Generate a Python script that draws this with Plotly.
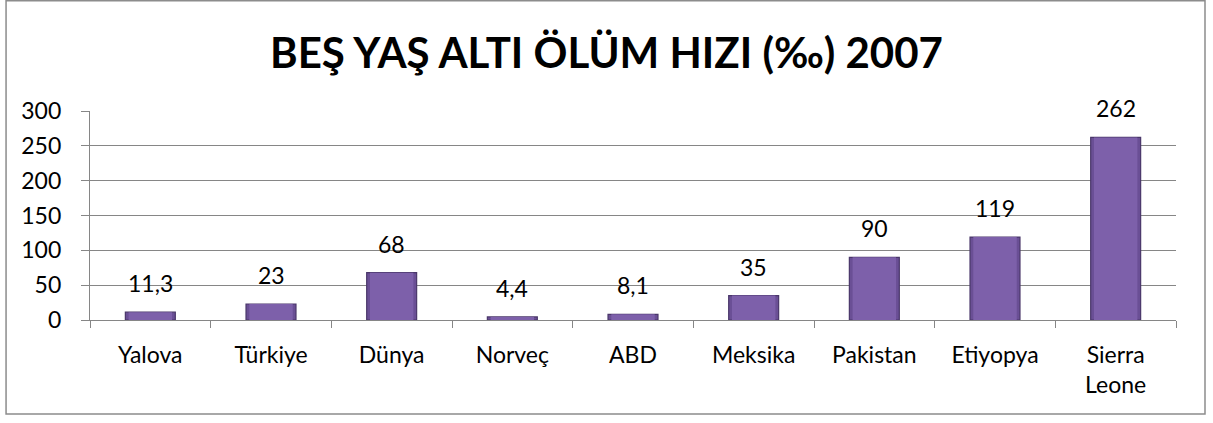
import plotly.graph_objects as go

# Under-five mortality rate (per mille), 2007
categories = ["Yalova", "Türkiye", "Dünya", "Norveç", "ABD", "Meksika",
              "Pakistan", "Etiyopya", "Sierra<br>Leone"]
values = [11.3, 23, 68, 4.4, 8.1, 35, 90, 119, 262]
value_labels = ["11,3", "23", "68", "4,4", "8,1", "35", "90", "119", "262"]
y_ticks = [0, 50, 100, 150, 200, 250, 300]

FONT = "Lato, 'Open Sans', sans-serif"

fig = go.Figure()

# outer bar body (darker bevel edges)
fig.add_trace(go.Bar(
    x=categories, y=values,
    marker=dict(color="#6a4f95", line=dict(color="#4a376a", width=1.2)),
    hoverinfo="x+y", showlegend=False,
))
# flat inner face of the bevelled bar
fig.add_trace(go.Bar(
    x=categories, y=values,
    marker=dict(color="#7d60aa", line=dict(width=0)),
    width=0.36, base=0, hoverinfo="skip", showlegend=False,
))

annotations = [
    dict(x=c, y=v, text=t, xref="x", yref="y", showarrow=False,
         yanchor="bottom", yshift=13, font=dict(family=FONT, size=23, color="#000"))
    for c, v, t in zip(categories, values, value_labels)
]
annotations.append(dict(
    text="<b>BEŞ YAŞ ALTI ÖLÜM HIZI (‰) 2007</b>", xref="paper", yref="paper",
    x=0.476, y=1.28, xanchor="center", yanchor="middle", showarrow=False,
    font=dict(family=FONT, size=42, color="#000"),
))

fig.update_layout(
    width=1213, height=423,
    margin=dict(l=90, r=37, t=111, b=103),
    paper_bgcolor="white", plot_bgcolor="white",
    barmode="overlay", bargap=0.586,
    annotations=annotations,
    shapes=[dict(type="rect", xref="paper", yref="paper",
                 x0=-0.0773, x1=1.0267, y0=-0.4498, y1=1.528,
                 line=dict(color="#8c8c8c", width=1.5), layer="below")],
    font=dict(family=FONT, size=23, color="#000"),
)
fig.update_xaxes(
    type="category", showline=True, linecolor="#868686", linewidth=1.2,
    ticks="outside", tickson="boundaries", ticklen=7, tickcolor="#868686",
    tickfont=dict(family=FONT, size=23), ticklabelstandoff=14, showgrid=False,
)
fig.update_yaxes(
    range=[0, 300], tickvals=y_ticks, showline=True, linecolor="#868686",
    linewidth=1.2, ticks="outside", ticklen=8, tickcolor="#868686",
    gridcolor="#868686", gridwidth=1, zeroline=False,
    tickfont=dict(family=FONT, size=23), ticklabelstandoff=15,
)

fig.write_html("out.html")
